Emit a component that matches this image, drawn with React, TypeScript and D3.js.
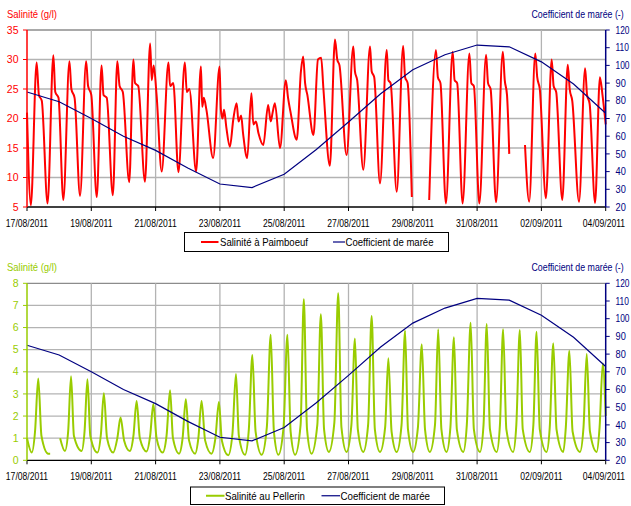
import * as d3 from 'd3'

type Pt = [number, number]

// days since 17/08/2011 00:00
const dateTicks = [0, 2, 4, 6, 8, 10, 12, 14, 16, 18]
const dateLabels = ['17/08/2011', '19/08/2011', '21/08/2011', '23/08/2011', '25/08/2011',
  '27/08/2011', '29/08/2011', '31/08/2011', '02/09/2011', '04/09/2011']

const tideDays = [0, 1, 2, 3, 4, 5, 6, 7, 8, 9, 10, 11, 12, 13, 14, 15, 16, 17, 18]
const tideCoef = [85, 79.5, 70, 60, 52, 42, 33, 31, 38.5, 52.5, 68, 84, 97.5, 106, 111.5, 110.5, 102, 89.5, 73]
const coefTicks = [20, 30, 40, 50, 60, 70, 80, 90, 100, 110, 120]

const paimboeufTicks = [5, 10, 15, 20, 25, 30, 35]
const pellerinTicks = [0, 1, 2, 3, 4, 5, 6, 7, 8]

// Salinité à Paimboeuf (g/l), segments split at data gaps
const paimboeuf: Pt[][] = [
  [[0.00, 21], [0.12, 5.3], [0.30, 29.5], [0.37, 24], [0.46, 23], [0.64, 5.6], [0.82, 30.7], [0.88, 24.5],
    [0.98, 23.5], [1.13, 6.2], [1.32, 29.7], [1.38, 25], [1.48, 23.5], [1.65, 6.9], [1.84, 29.7], [1.90, 25.5],
    [2.00, 24], [2.17, 6.7], [2.32, 29.0], [2.38, 24], [2.48, 23.5], [2.67, 7.0], [2.81, 29.7], [2.88, 25.5],
    [2.98, 24.5], [3.18, 9.2], [3.31, 30.0], [3.36, 26], [3.46, 25.5], [3.67, 9.3], [3.83, 32.7], [3.88, 26.5],
    [3.94, 29], [4.03, 24], [4.19, 11.0], [4.40, 29.5], [4.45, 25.5], [4.55, 26], [4.71, 10.9], [4.91, 29.5],
    [4.97, 24.5], [5.05, 25], [5.26, 11.0], [5.41, 28.8], [5.45, 22], [5.50, 23.5], [5.58, 21.5], [5.79, 13.3],
    [5.99, 28.8], [6.03, 21.5], [6.08, 20], [6.13, 21.5], [6.20, 18.5], [6.31, 15.2], [6.42, 20], [6.52, 22.6],
    [6.58, 19.5], [6.66, 20.5], [6.72, 17.5], [6.85, 13.3], [6.98, 24.3], [7.04, 19], [7.12, 19.5], [7.20, 17.5],
    [7.35, 15.5], [7.50, 22.3], [7.58, 19.5], [7.64, 21], [7.71, 22.6], [7.87, 15.0], [8.05, 26.5], [8.12, 23.5],
    [8.20, 21], [8.39, 16.4], [8.52, 28], [8.59, 30.5], [8.65, 26], [8.72, 24], [8.91, 17.2], [9.05, 30],
    [9.15, 30.3], [9.22, 25], [9.42, 12], [9.58, 33.4], [9.65, 30], [9.72, 29], [9.94, 13.8], [10.15, 32.2],
    [10.20, 28], [10.27, 26.5], [10.46, 11.3], [10.67, 32.2], [10.72, 28], [10.80, 27], [10.98, 9.0], [11.19, 31.6],
    [11.24, 26.5], [11.31, 26], [11.50, 7.6], [11.70, 32.3], [11.76, 27], [11.84, 26], [11.97, 6.7]],
  [[12.51, 6.2], [12.72, 31.6], [12.78, 27], [12.86, 26], [13.03, 5.6], [13.24, 31.3], [13.30, 26.5], [13.38, 26],
    [13.55, 5.6], [13.76, 31], [13.82, 26], [13.90, 25.5], [14.07, 5.6], [14.28, 30.8], [14.34, 26], [14.42, 25],
    [14.59, 5.8], [14.80, 31.3], [14.86, 26.5], [14.93, 24], [15.00, 14]],
  [[15.49, 15.5], [15.62, 5.9], [15.81, 31], [15.87, 27], [15.95, 25], [16.14, 6.5], [16.32, 30], [16.38, 25.5],
    [16.46, 24.5], [16.65, 6.2], [16.82, 29.1], [16.88, 25], [16.96, 23], [17.17, 5.9], [17.36, 28.5], [17.42, 24],
    [17.50, 22.5], [17.67, 5.7], [17.82, 27], [17.90, 24], [18.00, 19]],
]

// Salinité au Pellerin (g/l)
const pellerin: Pt[][] = [
  [[0.00, 1.0], [0.15, 0.35], [0.25, 1.3], [0.35, 3.7], [0.45, 1.1], [0.66, 0.3], [0.72, 0.3]],
  [[1.03, 1.0], [1.18, 0.42], [1.28, 1.3], [1.37, 3.8], [1.46, 1.1], [1.70, 0.42], [1.79, 1.3], [1.88, 3.66],
    [1.97, 1.1], [2.19, 0.35], [2.30, 1.2], [2.39, 3.03], [2.49, 1.0], [2.68, 0.35], [2.81, 1.0], [2.91, 1.93],
    [3.02, 0.9], [3.20, 0.42], [3.31, 1.1], [3.41, 2.68], [3.51, 1.0], [3.72, 0.4], [3.83, 1.1], [3.93, 2.55],
    [4.03, 1.0], [4.22, 0.35], [4.34, 1.1], [4.45, 3.17], [4.54, 1.0], [4.73, 0.3], [4.84, 1.0], [4.94, 2.76],
    [5.04, 0.9], [5.23, 0.3], [5.33, 1.0], [5.43, 2.68], [5.54, 0.9], [5.74, 0.3], [5.86, 1.0], [5.97, 2.64],
    [6.06, 0.9], [6.26, 0.23], [6.39, 1.2], [6.50, 3.9], [6.59, 1.1], [6.78, 0.25], [6.90, 1.4], [7.01, 4.76],
    [7.11, 1.3], [7.30, 0.25], [7.46, 1.5], [7.58, 5.67], [7.68, 1.3], [7.82, 0.25], [7.98, 1.5], [8.10, 5.67],
    [8.20, 1.3], [8.34, 0.25], [8.51, 1.6], [8.61, 7.28], [8.71, 1.4], [8.85, 0.3], [9.03, 1.6], [9.14, 6.6],
    [9.24, 1.4], [9.39, 0.38], [9.56, 1.7], [9.68, 7.55], [9.78, 1.5], [9.94, 0.38], [10.09, 1.6], [10.20, 5.51],
    [10.29, 1.4], [10.46, 0.38], [10.61, 1.6], [10.72, 6.52], [10.82, 1.4], [10.98, 0.38], [11.14, 1.5], [11.24, 4.61],
    [11.34, 1.3], [11.50, 0.38], [11.65, 1.6], [11.76, 5.86], [11.85, 1.4], [12.01, 0.38], [12.16, 1.5], [12.28, 5.24],
    [12.38, 1.4], [12.53, 0.38], [12.69, 1.6], [12.79, 5.92], [12.89, 1.4], [13.05, 0.38], [13.17, 1.5], [13.28, 5.56],
    [13.37, 1.4], [13.57, 0.38], [13.68, 1.6], [13.80, 6.22], [13.90, 1.4], [14.09, 0.38], [14.20, 1.6], [14.30, 6.16],
    [14.40, 1.4], [14.61, 0.38], [14.71, 1.6], [14.81, 5.92], [14.91, 1.4], [15.12, 0.38], [15.22, 1.6], [15.33, 5.89],
    [15.42, 1.4], [15.64, 0.38], [15.75, 1.6], [15.85, 5.81], [15.95, 1.4], [16.16, 0.38], [16.26, 1.5], [16.37, 5.29],
    [16.47, 1.4], [16.68, 0.38], [16.76, 1.5], [16.87, 4.95], [16.97, 1.3], [17.20, 0.38], [17.31, 1.5], [17.41, 4.8],
    [17.51, 1.3], [17.72, 0.38], [17.81, 1.5], [17.91, 4.38], [18.00, 2.0]],
]

const NAVY = '#000080'
const FONT = '"Liberation Sans", Arial, sans-serif'
const X0 = 27
const X1 = 605.7

type PanelProps = {
  top: number
  bottom: number
  ticks: number[]
  color: string
  series: Pt[][]
  label: string
  box: { x: number; y: number; w: number; h: number }
  item1: { x0: number; x1: number; tx: number; tl: number }
  item2: { x0: number; x1: number; tx: number; tl: number }
}

function Panel({ top, bottom, ticks, color, series, label, box, item1, item2 }: PanelProps) {
  const x = d3.scaleLinear().domain([0, 18]).range([X0, X1])
  const y = d3.scaleLinear().domain([ticks[0], ticks[ticks.length - 1]]).range([bottom, top])
  const yc = d3.scaleLinear().domain([20, 120]).range([bottom, top])

  const line = d3.line<Pt>().x(d => x(d[0])).y(d => y(d[1])).curve(d3.curveMonotoneX)
  const coefLine = d3.line<number>().x((_, i) => x(tideDays[i])).y(d => yc(d))

  const ly = box.y + box.h / 2
  return (
    <g fontFamily={FONT}>
      {/* grid */}
      {ticks.slice(1).map(t => (
        <line key={'h' + t} x1={X0} x2={X1} y1={y(t)} y2={y(t)}
          stroke={t === ticks[ticks.length - 1] ? '#8c8c8c' : '#b3b3b3'} strokeWidth={1.3} />
      ))}
      {dateTicks.slice(1, -1).map(t => (
        <line key={'v' + t} x1={x(t)} x2={x(t)} y1={top} y2={bottom} stroke="#b3b3b3" strokeWidth={1.3} />
      ))}

      {/* salinity */}
      {series.map((seg, i) => (
        <path key={i} d={line(seg) ?? ''} fill="none" stroke={color} strokeWidth={2} strokeLinejoin="round" />
      ))}

      {/* tidal coefficient */}
      <path d={coefLine(tideCoef) ?? ''} fill="none" stroke={NAVY} strokeWidth={1.2} />

      {/* x axis */}
      <line x1={X0} x2={X1} y1={bottom} y2={bottom} stroke="#000" strokeWidth={1.3} />
      {dateTicks.map((t, i) => {
        const cx = Math.min(x(t), 604)
        return (
          <g key={t}>
            <line x1={x(t)} x2={x(t)} y1={bottom} y2={bottom + 4} stroke="#000" />
            <text transform={`translate(${cx},${bottom + 19.5}) scale(0.78,1)`} fontSize={11}
              textAnchor="middle" fill="#000">{dateLabels[i]}</text>
          </g>
        )
      })}

      {/* left axis */}
      <line x1={X0} x2={X0} y1={top} y2={bottom} stroke={color} strokeWidth={1.5} />
      {ticks.map(t => (
        <g key={t}>
          <line x1={X0 - 4} x2={X0} y1={y(t)} y2={y(t)} stroke={color} />
          <text x={18.5} y={y(t) + 3.6} fontSize={10.5} textAnchor="end" fill={color}>{t}</text>
        </g>
      ))}
      <text x={7} y={top - 12.5} fontSize={11} textLength={50} lengthAdjust="spacingAndGlyphs"
        fill={color}>Salinité (g/l)</text>

      {/* right axis */}
      <line x1={X1} x2={X1} y1={top} y2={bottom} stroke={NAVY} strokeWidth={1.5} />
      {coefTicks.map(t => (
        <g key={t}>
          <line x1={X1} x2={X1 + 4} y1={yc(t)} y2={yc(t)} stroke={NAVY} />
          <text transform={`translate(615.5,${yc(t) + 3.6}) scale(${t >= 100 ? 0.8 : 0.88},1)`}
            fontSize={10.5} fill={NAVY}>{t}</text>
        </g>
      ))}
      <text transform={`translate(531.5,${top - 12.5}) scale(0.8,1)`} fontSize={11}
        fill={NAVY}>Coefficient de marée (-)</text>

      {/* legend */}
      <rect x={box.x} y={box.y} width={box.w} height={box.h} fill="#fff" stroke="#000" strokeWidth={1} />
      <line x1={item1.x0} x2={item1.x1} y1={ly} y2={ly} stroke={color} strokeWidth={2} />
      <text x={item1.tx} y={ly + 4} fontSize={11} textLength={item1.tl} lengthAdjust="spacingAndGlyphs"
        fill="#000">{label}</text>
      <line x1={item2.x0} x2={item2.x1} y1={ly} y2={ly} stroke={NAVY} strokeWidth={1.2} />
      <text x={item2.tx} y={ly + 4} fontSize={11} textLength={item2.tl} lengthAdjust="spacingAndGlyphs"
        fill="#000">Coefficient de marée</text>
    </g>
  )
}

export default function App() {
  return (
    <svg width={631} height={506} viewBox="0 0 631 506"
      style={{ position: 'absolute', left: 0, top: 0, background: '#fff' }}>
      <rect width={631} height={506} fill="#fff" />
      <Panel top={30} bottom={207} ticks={paimboeufTicks} color="#ff0000" series={paimboeuf}
        label="Salinité à Paimboeuf"
        box={{ x: 184.5, y: 232.5, w: 264, h: 19 }}
        item1={{ x0: 201, x1: 218.5, tx: 220, tl: 88 }}
        item2={{ x0: 333, x1: 345, tx: 345.5, tl: 88 }} />
      <Panel top={283.3} bottom={460.3} ticks={pellerinTicks} color="#99cc00" series={pellerin}
        label="Salinité au Pellerin"
        box={{ x: 190.5, y: 487, w: 254, h: 17.5 }}
        item1={{ x0: 206, x1: 224.5, tx: 225, tl: 80 }}
        item2={{ x0: 321.5, x1: 340, tx: 340.5, tl: 89.5 }} />
    </svg>
  )
}
